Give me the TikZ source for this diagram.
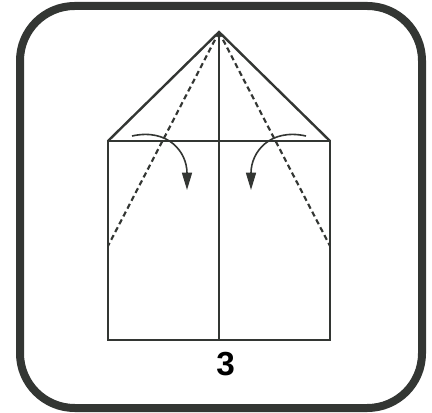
\documentclass[tikz,border=0pt]{standalone}
\usepackage{fontspec}
\setsansfont{Liberation Sans}
\usetikzlibrary{arrows.meta,positioning}

\definecolor{ink}{HTML}{333633}

\begin{document}
\begin{tikzpicture}[
    x=0.75pt, y=-0.75pt,
    frame/.style={draw=ink, line width=6pt, rounded corners=41pt},
    edge/.style={draw=ink, line width=1.8pt, line join=miter},
    crease/.style={draw=ink, line width=1.6pt, dash pattern=on 4pt off 2.6pt},
    turn/.style={draw=ink, line width=1.2pt, -{Triangle[length=13pt, width=7.5pt]}},
    stepnum/.style={font=\sffamily\bfseries\fontsize{25}{30}\selectfont, text=black, inner sep=0pt}
]
\useasboundingbox (0,0) rectangle (432,413);
\draw[frame] (20,6) rectangle (422,408);

% paper corners
\coordinate (apex) at (219,32);
\coordinate (tl) at (108,141);
\coordinate (tr) at (330,141);
\coordinate (bl) at (108,340);
\coordinate (br) at (330,340);
\coordinate (tm) at (219,141);
\coordinate (bm) at (219,340);
\coordinate (lmark) at (108,246);
\coordinate (rmark) at (330,246);

% outline
\draw[edge] (tl) -- (apex) -- (tr);
\draw[edge] (tl) rectangle (br);
\draw[edge] (apex) -- (bm);

% folds
\draw[crease] (apex) -- (lmark);
\draw[crease] (apex) -- (rmark);

% arrows
\coordinate (lstart) at (132,136);
\coordinate (lend) at (187,190);
\coordinate (rstart) at (306,136);
\coordinate (rend) at (251,190);
\draw[turn] (lstart) .. controls (168,128) and (187,152) .. (lend);
\draw[turn] (rstart) .. controls (270,128) and (251,152) .. (rend);

\node[stepnum, below=9pt of bm, xshift=5pt] (label) {3};
\end{tikzpicture}
\end{document}
